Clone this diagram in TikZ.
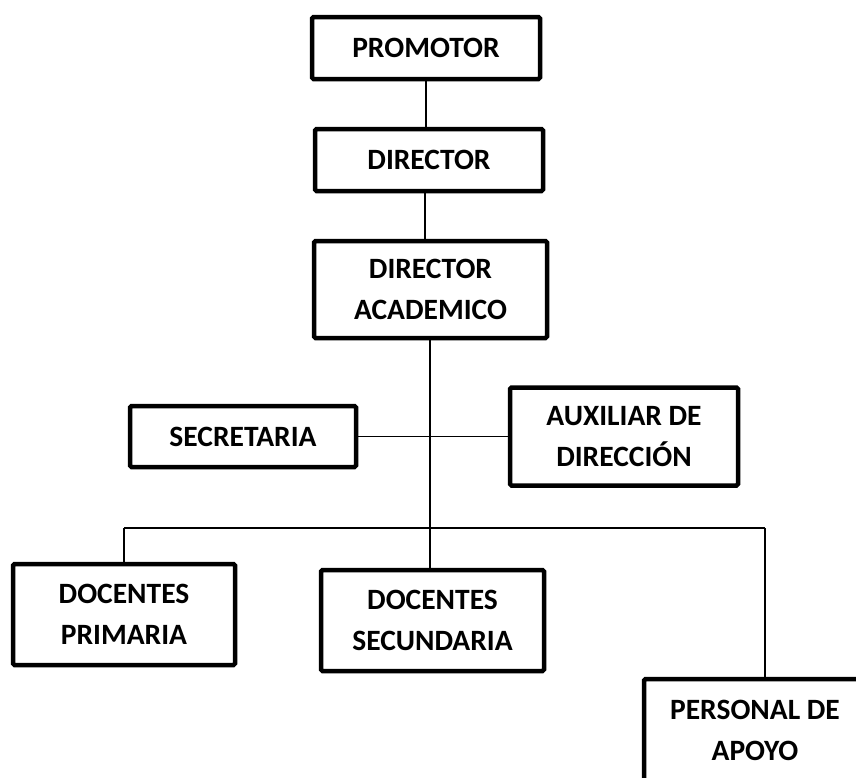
\documentclass[tikz,border=0pt]{standalone}
\usepackage{fontspec}
\setmainfont{Carlito}
\begin{document}
\begin{tikzpicture}[x=1pt,y=-1pt,
  unit/.style={draw=black, line width=4.5pt, rounded corners=1.5pt, fill=white,
    inner sep=0pt, align=center,
    font=\fontsize{29.5}{41}\selectfont\bfseries},
  link/.style={draw=black, line width=1.3pt}]
  \useasboundingbox (0,0) rectangle (856,777);
  \clip (0,0) rectangle (856,777);

  % boxes of the chart
  \node[unit, minimum width=228pt, minimum height=62pt] (prom) at (426,48) {PROMOTOR};
  \node[unit, minimum width=228pt, minimum height=62pt] (dir) at (429,160) {DIRECTOR};
  \node[unit, minimum width=233pt, minimum height=97pt] (acad) at (430.5,289.5) {DIRECTOR\\ACADEMICO};
  \node[unit, minimum width=226pt, minimum height=61pt] (sec) at (243,436.5) {SECRETARIA};
  \node[unit, minimum width=228pt, minimum height=98pt] (aux) at (624,436.5) {AUXILIAR DE\\DIRECCIÓN};
  \node[unit, minimum width=222pt, minimum height=101pt] (prim) at (124,614.5) {DOCENTES\\PRIMARIA};
  \node[unit, minimum width=223pt, minimum height=101pt] (secu) at (432.5,620.5) {DOCENTES\\SECUNDARIA};
  \node[unit, minimum width=222pt, minimum height=102pt] (pers) at (755,730) {PERSONAL DE\\APOYO};

  % bus line joints
  \coordinate (busL) at (124,528);
  \coordinate (busR) at (765,528);

  % connectors
  \draw[link] (prom.south) -- (prom.south |- dir.north);
  \draw[link] (dir.south -| 425,0) -- (acad.north -| 425,0);
  \draw[link] (acad.south -| 430,0) -- (secu.north -| 430,0);
  \draw[link] (sec.east) -- (aux.west);
  \draw[link] (busL) -- (busR);
  \draw[link] (busL) -- (prim.north -| busL);
  \draw[link] (busR) -- (pers.north -| busR);
\end{tikzpicture}
\end{document}
